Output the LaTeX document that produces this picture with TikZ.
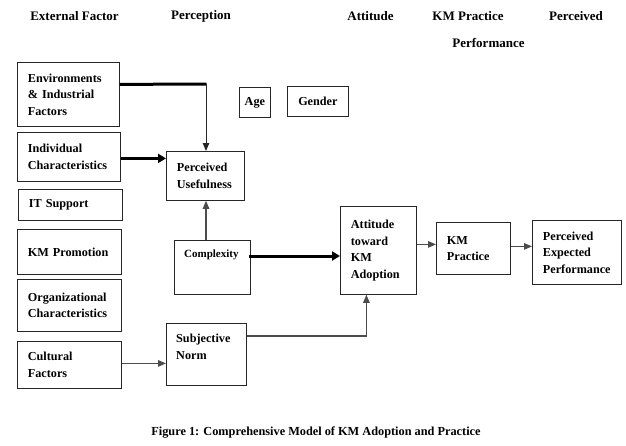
\documentclass[tikz,border=0pt]{standalone}
\usepackage{fontspec}
\setmainfont{Liberation Serif}
\usetikzlibrary{arrows.meta}
\tikzset{
  box/.style={draw=black!85, line width=0.8pt, inner xsep=10.5pt, inner ysep=0pt,
    align=left, anchor=north west, font=\fontsize{12.2}{16.5}\selectfont\bfseries},
  plainbox/.style={draw=black!85, line width=0.8pt, inner sep=0pt, anchor=north west},
  boxtext/.style={inner sep=0pt, anchor=north west, align=left},
  hdr/.style={font=\fontsize{13}{16}\selectfont\bfseries, inner sep=0pt},
  thickline/.style={line width=3pt, black},
  thickarrow/.style={line width=3pt, black, -{Triangle[length=8pt,width=9pt]}},
  thinarrow/.style={line width=1.2pt, black!70, -{Triangle[length=8pt,width=6.5pt]}},
}
\begin{document}
\begin{tikzpicture}[x=1pt,y=-1pt]
\useasboundingbox (0,0) rectangle (626,445);
% headers
\node[hdr] (h1) at (74.5,16) {External Factor};
\node[hdr] (h2) at (201,16) {Perception};
\node[hdr] (h3) at (370.5,16) {Attitude};
\node[hdr] (h4) at (468,16) {KM Practice};
\node[hdr] (h5) at (576,16) {Perceived};
\node[hdr] (h6) at (488.5,43) {Performance};
% external factors
\node[box, text width=81pt, minimum height=64pt] (env) at (17,62) {Environments\\\& Industrial\\Factors};
\node[box, text width=82pt, minimum height=49pt] (ind) at (17,132) {Individual\\Characteristics};
\node[box, text width=83pt, minimum height=31pt] (its) at (18,189) {IT Support};
\node[box, text width=83pt, minimum height=45pt] (kmpro) at (17,229) {KM Promotion};
\node[box, text width=83pt, minimum height=52pt] (org) at (17,279) {Organizational\\Characteristics};
\node[box, text width=83pt, minimum height=47pt] (cf) at (17,341) {Cultural\\Factors};
% perception
\node[box, text width=57pt, minimum height=49pt] (pu) at (166,151) {Perceived\\Usefulness};
\node[plainbox, minimum width=76pt, minimum height=54pt] (cx) at (174,240) {};
\node[boxtext, font=\fontsize{11}{14}\selectfont\bfseries] (cxt) at (184,250) {Complexity};
\node[plainbox, minimum width=80pt, minimum height=62pt] (sn) at (166,323) {};
\node[boxtext, font=\fontsize{12.2}{16.5}\selectfont\bfseries] (snt) at (176,334) {Subjective\\Norm};
\node[box, align=center, inner xsep=0pt, text width=31pt, minimum height=30pt] (age) at (239,87) {Age};
\node[box, align=center, inner xsep=0pt, text width=61pt, minimum height=30pt] (gen) at (287,86) {Gender};
% attitude, practice, performance
\node[box, text width=55pt, minimum height=88pt] (att) at (340,206) {Attitude\\toward\\KM\\Adoption};
\node[box, text width=53pt, minimum height=52pt] (kmp) at (436,222) {KM\\Practice};
\node[box, text width=68pt, minimum height=64pt] (pep) at (532,220) {Perceived\\Expected\\Performance};
% connectors
\coordinate (envc) at (206,84);
\coordinate (cxo) at ([yshift=-16pt,xshift=-2pt]cx.north east);
\coordinate (sno) at ([yshift=-13pt]sn.north east);
\draw[thickline] ([yshift=10pt]env.east) -- ([xshift=0.5pt]envc);
\draw[line width=1pt, black!85, -{Triangle[length=8pt,width=6.5pt]}] (envc) -- (envc |- pu.north);
\draw[thickarrow] ([yshift=-1.5pt]ind.east) -- ([yshift=-1.5pt]pu.west |- ind.east);
\draw[thinarrow] (cx.north -| envc) -- (pu.south -| envc);
\draw[thickarrow] (cxo) -- (att.west |- cxo);
\draw[thinarrow] (sno) -| ([xshift=-12pt]att.south);
\draw[thinarrow] ([yshift=1.5pt]cf.east) -- ([yshift=1.5pt]sn.west |- cf.east);
\draw[thinarrow] ([yshift=6pt]att.east) -- ([yshift=6pt]kmp.west |- att.east);
\draw[thinarrow] ([yshift=2pt]kmp.east) -- ([yshift=2pt]pep.west |- kmp.east);
% caption
\node[font=\fontsize{12.3}{15}\selectfont\bfseries, inner sep=0pt] (cap) at (316,433) {Figure 1: Comprehensive Model of KM Adoption and Practice};
\end{tikzpicture}
\end{document}
